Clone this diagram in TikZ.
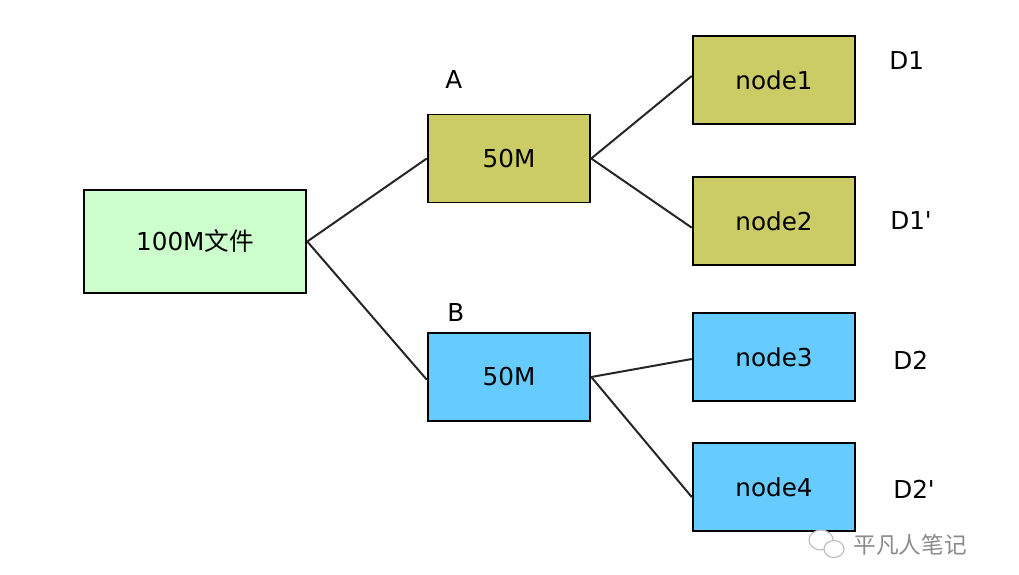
\documentclass[tikz,border=0pt]{standalone}
\usepackage{fontspec}
\setmainfont{DejaVu Sans}[Ligatures=TeXOff]
\newfontfamily\cjk{Noto Sans CJK SC}
\usetikzlibrary{positioning}
\definecolor{filegreen}{HTML}{CCFFCC}
\definecolor{partolive}{HTML}{CCCC66}
\definecolor{partblue}{HTML}{66CCFF}
\definecolor{markgray}{HTML}{8A8A8A}

\begin{document}
\begin{tikzpicture}[x=0.75pt,y=-0.75pt,
   box/.style={draw,line width=1.4pt,inner sep=0pt,font=\fontsize{18.5}{22}\selectfont},
   part/.style={box,minimum width=122pt,minimum height=66pt},
   tag/.style={anchor=west,inner sep=0pt,font=\fontsize{18.5}{22}\selectfont},
   link/.style={line width=1.5pt,draw=black!85}]
  \useasboundingbox (0,0) rectangle (1019,574);
  % source file and its two halves
  \node[box,fill=filegreen,minimum width=167pt,minimum height=77pt] (file) at (195,241.5) {100M{\cjk 文件}};
  \node[part,fill=partolive] (halfa) at (509,158.5) {50M};
  \node[part,fill=partblue] (halfb) at (509,377) {50M};
  % storage nodes
  \node[part,fill=partolive] (node1) at (774,80) {node1};
  \node[part,fill=partolive] (node2) at (774,221) {node2};
  \node[part,fill=partblue] (node3) at (774,357) {node3};
  \node[part,fill=partblue] (node4) at (774,487) {node4};
  % labels
  \node[tag] (taga) at (445,80) {A};
  \node[tag] (tagb) at (447,313) {B};
  \node[tag] (tagd1) at (889,61) {D1};
  \node[tag] (tagd1p) at (890,221) {D1'};
  \node[tag] (tagd2) at (893,360) {D2};
  \node[tag] (tagd2p) at (893,489) {D2'};
  \draw[link] (file.east)--(halfa.west);
  \draw[link] (file.east)--([yshift=-2pt]halfb.west);
  \draw[link] (halfa.east)--([yshift=3pt]node1.west);
  \draw[link] (halfa.east)--([yshift=-5pt]node2.west);
  \draw[link] (halfb.east)--([yshift=-1.5pt]node3.west);
  \draw[link] (halfb.east)--([yshift=-7.5pt]node4.west);
  % watermark
  \draw[markgray!60,line width=0.8pt,fill=white] (821,540) ellipse (12 and 10);
  \draw[markgray!60,line width=0.8pt,fill=white] (834,549) ellipse (10 and 8.5);
  \node[inner sep=0pt,text=markgray,font=\cjk\fontsize{17}{20}\selectfont] (mark) at (910,545) {平凡人笔记};
\end{tikzpicture}
\end{document}
